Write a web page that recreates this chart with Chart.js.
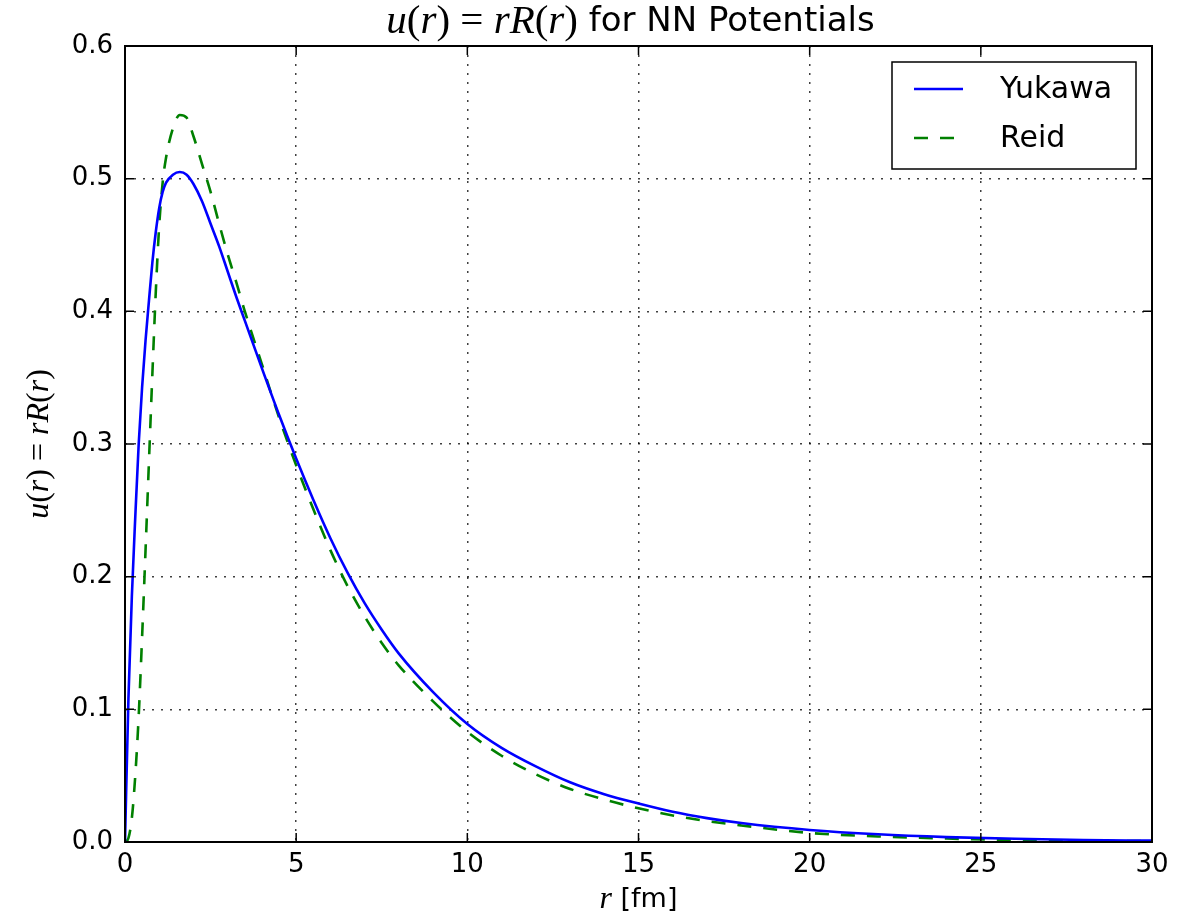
<!DOCTYPE html>
<html lang="en">
<head>
    <meta charset="UTF-8">
    <title>u(r) = rR(r) for NN Potentials</title>
    <script src="https://cdn.jsdelivr.net/npm/chart.js"></script>
    <style>
        body {
            margin: 0;
            background: white;
        }
        .chart-container {
            width: 1198px;
            height: 917px;
            position: relative;
        }
    </style>
</head>
<body>
    <div class="chart-container">
        <canvas id="waveChart"></canvas>
    </div>

    <script>
        // r [fm] sampling
        const rValues = [0, 0.1, 0.2, 0.3, 0.4, 0.5, 0.6, 0.7, 0.8, 0.9, 1.0, 1.1, 1.2, 1.4, 1.6, 1.8, 2.0, 2.25, 2.5, 2.75,
                         3.0, 3.25, 3.5, 4.0, 4.5, 5.0, 5.5, 6.0, 6.5, 7.0, 7.5, 8.0, 9.0, 10, 11, 12, 13, 14, 15, 16,
                         17, 18, 20, 22, 24, 26, 28, 30];
        const yukawaValues = [0, 0.108, 0.185, 0.245, 0.300, 0.343, 0.378, 0.408, 0.437, 0.460, 0.478, 0.490, 0.497, 0.503, 0.505, 0.503, 0.496, 0.483, 0.466, 0.449,
                              0.430, 0.411, 0.393, 0.357, 0.322, 0.289, 0.258, 0.229, 0.203, 0.180, 0.160, 0.142, 0.113, 0.089, 0.071, 0.057, 0.045, 0.036, 0.029, 0.0228,
                              0.018, 0.0143, 0.0091, 0.0058, 0.0037, 0.0024, 0.0015, 0.0010];
        const reidValues = [0, 0.003, 0.018, 0.050, 0.095, 0.155, 0.220, 0.287, 0.353, 0.415, 0.465, 0.497, 0.516, 0.538, 0.548, 0.546, 0.532, 0.511, 0.490, 0.466,
                            0.443, 0.422, 0.400, 0.360, 0.320, 0.284, 0.251, 0.220, 0.193, 0.170, 0.150, 0.133, 0.106, 0.083, 0.065, 0.051, 0.040, 0.032, 0.0254, 0.020,
                            0.0158, 0.0125, 0.0068, 0.0042, 0.0026, 0.0016, 0.0010, 0.0006];
        const xTicks = [0, 5, 10, 15, 20, 25, 30];
        const yTicks = [0.0, 0.1, 0.2, 0.3, 0.4, 0.5, 0.6];

        const sans = '"DejaVu Sans", sans-serif';
        const serif = '"Liberation Serif", "DejaVu Serif", serif';
        const mathScale = 1.2;

        // draw text made of pieces with different fonts, centred at (cx, cy)
        function fontFor(p, size) {
            if (p.math) return (p.italic ? 'italic ' : '') + Math.round(size * mathScale) + 'px ' + serif;
            return size + 'px ' + sans;
        }
        function drawMixed(ctx, parts, cx, cy, size) {
            let total = 0;
            parts.forEach(p => {
                ctx.font = fontFor(p, size);
                p.w = ctx.measureText(p.text).width;
                total += p.w;
            });
            let x = cx - total / 2;
            ctx.textBaseline = 'middle';
            ctx.textAlign = 'left';
            parts.forEach(p => {
                ctx.font = fontFor(p, size);
                ctx.fillText(p.text, x, cy);
                x += p.w;
            });
        }

        const mathLabel = () => [
            { text: 'u', math: true, italic: true },
            { text: '(', math: true },
            { text: 'r', math: true, italic: true },
            { text: ')', math: true },
            { text: ' = ', math: true },
            { text: 'rR', math: true, italic: true },
            { text: '(', math: true },
            { text: 'r', math: true, italic: true },
            { text: ')', math: true }
        ];

        const decorPlugin = {
            id: 'decor',
            afterDraw(chart) {
                const ctx = chart.ctx;
                const a = chart.chartArea;
                const xs = chart.scales.x;
                const ys = chart.scales.y;
                ctx.save();
                ctx.fillStyle = 'black';
                ctx.strokeStyle = 'black';

                // inward ticks on all four sides
                ctx.lineWidth = 1.5;
                const tl = 9;
                ctx.beginPath();
                xTicks.forEach(v => {
                    const px = xs.getPixelForValue(v);
                    ctx.moveTo(px, a.bottom); ctx.lineTo(px, a.bottom - tl);
                    ctx.moveTo(px, a.top); ctx.lineTo(px, a.top + tl);
                });
                yTicks.forEach(v => {
                    const py = ys.getPixelForValue(v);
                    ctx.moveTo(a.left, py); ctx.lineTo(a.left + tl, py);
                    ctx.moveTo(a.right, py); ctx.lineTo(a.right - tl, py);
                });
                ctx.stroke();

                // frame
                ctx.lineWidth = 2;
                ctx.strokeRect(a.left, a.top, a.right - a.left, a.bottom - a.top);

                // title
                const cx = (a.left + a.right) / 2;
                drawMixed(ctx, mathLabel().concat([{ text: ' for NN Potentials' }]), cx - 8, 22, 34);

                // x label
                drawMixed(ctx, [{ text: 'r', math: true, italic: true }, { text: ' [fm]' }], cx, 900, 27);

                // y label
                ctx.save();
                ctx.translate(40, (a.top + a.bottom) / 2);
                ctx.rotate(-Math.PI / 2);
                drawMixed(ctx, mathLabel(), 0, 0, 27);
                ctx.restore();

                // legend
                const bx = a.right - 260, by = a.top + 16, bw = 244, bh = 107;
                ctx.fillStyle = 'white';
                ctx.fillRect(bx, by, bw, bh);
                ctx.lineWidth = 1.5;
                ctx.strokeStyle = 'black';
                ctx.strokeRect(bx, by, bw, bh);
                chart.data.datasets.forEach((ds, i) => {
                    const ly = by + 27 + i * 49;
                    ctx.beginPath();
                    ctx.strokeStyle = ds.borderColor;
                    ctx.lineWidth = ds.borderWidth;
                    ctx.setLineDash(ds.borderDash || []);
                    ctx.moveTo(bx + 22, ly);
                    ctx.lineTo(bx + (ds.borderDash ? 62 : 71), ly);
                    ctx.stroke();
                    ctx.setLineDash([]);
                    ctx.fillStyle = 'black';
                    ctx.font = '30px ' + sans;
                    ctx.textAlign = 'left';
                    ctx.textBaseline = 'middle';
                    ctx.fillText(ds.label, bx + 108, ly + 1);
                });
                ctx.restore();
            }
        };

        const gridOpts = {
            color: 'rgba(0,0,0,0.75)',
            lineWidth: 1.5,
            drawTicks: false
        };
        const borderOpts = { display: false, dash: [2, 7] };

        const ctx = document.getElementById('waveChart').getContext('2d');
        new Chart(ctx, {
            type: 'line',
            data: {
                datasets: [{
                    label: 'Yukawa',
                    data: rValues.map((r, i) => ({ x: r, y: yukawaValues[i] })),
                    borderColor: '#0000ff',
                    borderWidth: 2.6,
                    pointRadius: 0,
                    cubicInterpolationMode: 'monotone',
                    fill: false
                }, {
                    label: 'Reid',
                    data: rValues.map((r, i) => ({ x: r, y: reidValues[i] })),
                    borderColor: '#008000',
                    borderWidth: 2.6,
                    borderDash: [14, 12],
                    pointRadius: 0,
                    cubicInterpolationMode: 'monotone',
                    fill: false
                }]
            },
            options: {
                responsive: true,
                maintainAspectRatio: false,
                animation: false,
                layout: {
                    padding: { top: 46, right: 46, left: 0, bottom: 0 }
                },
                plugins: {
                    legend: { display: false },
                    title: { display: false },
                    tooltip: { enabled: false }
                },
                scales: {
                    x: {
                        type: 'linear',
                        min: 0,
                        max: 30,
                        afterFit: scale => { scale.height = 75; },
                        afterBuildTicks: scale => { scale.ticks = xTicks.map(v => ({ value: v })); },
                        border: borderOpts,
                        grid: gridOpts,
                        ticks: {
                            color: 'black',
                            padding: 8,
                            maxRotation: 0,
                            font: { family: sans, size: 26 }
                        }
                    },
                    y: {
                        min: 0,
                        max: 0.6,
                        afterFit: scale => { scale.width = 125; },
                        afterBuildTicks: scale => { scale.ticks = yTicks.map(v => ({ value: v })); },
                        border: borderOpts,
                        grid: gridOpts,
                        ticks: {
                            color: 'black',
                            padding: 12,
                            font: { family: sans, size: 26 },
                            callback: v => v.toFixed(1)
                        }
                    }
                }
            },
            plugins: [decorPlugin]
        });
    </script>
</body>
</html>
